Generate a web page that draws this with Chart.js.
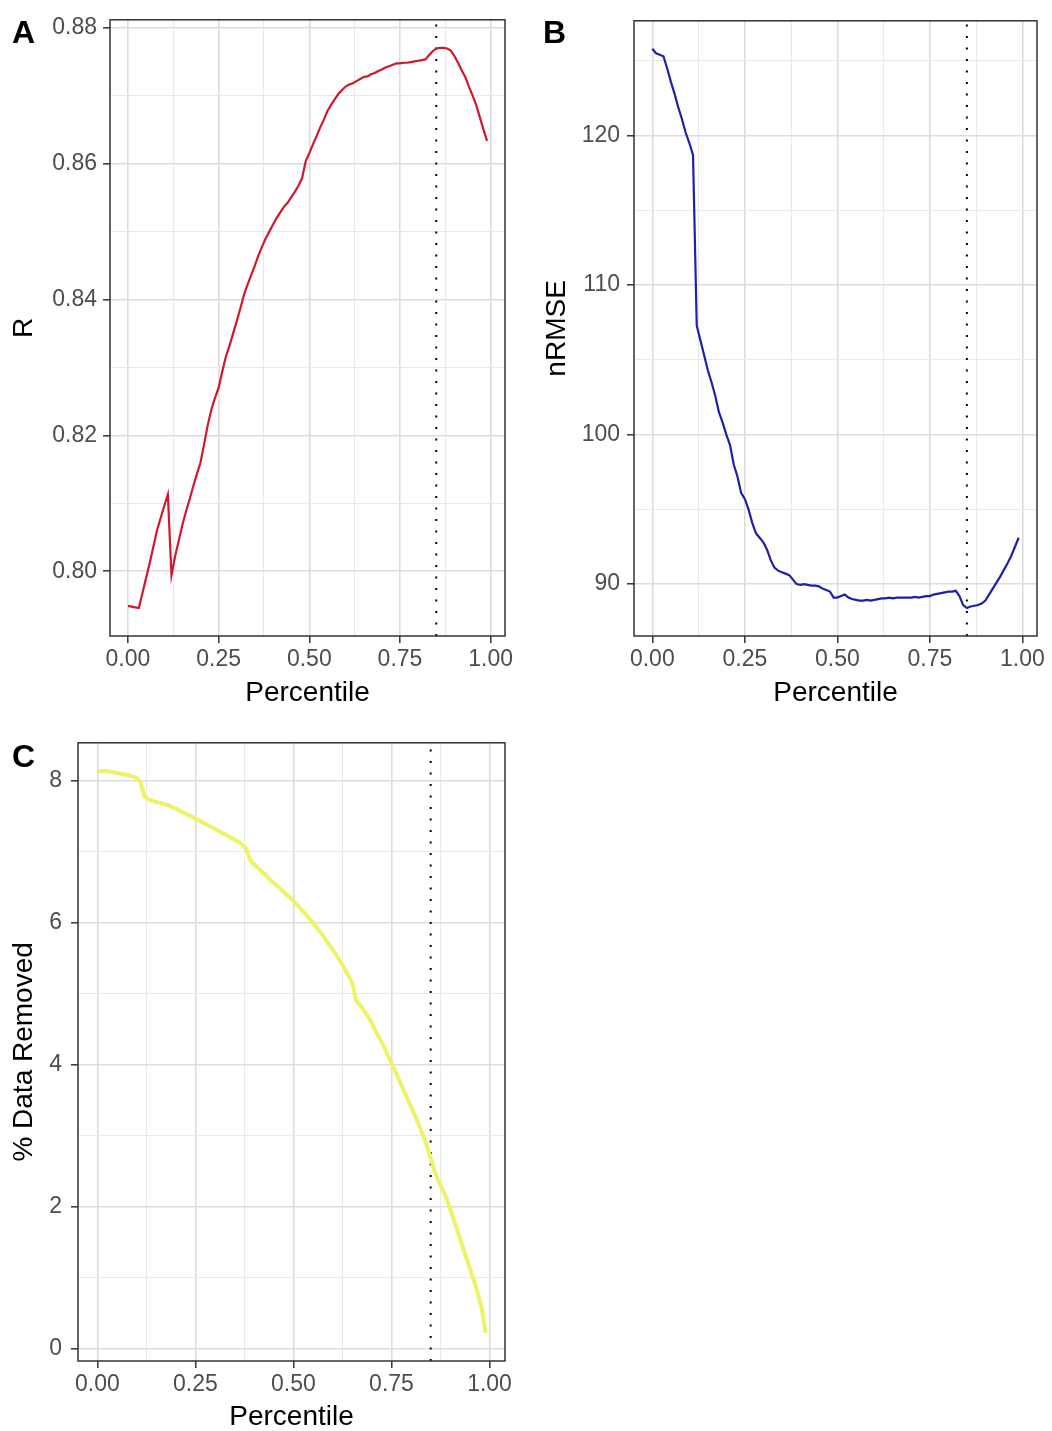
<!DOCTYPE html>
<html>
<head>
<meta charset="utf-8">
<script src="https://cdn.jsdelivr.net/npm/chart.js@4"></script>
<style>
html, body { margin: 0; padding: 0; background: #fff; overflow: hidden; }
body { width: 1052px; height: 1431px; position: relative; font-family: "Liberation Sans", Arial, sans-serif; }
canvas { position: absolute; }
.tag { position: absolute; font-weight: bold; font-size: 32px; line-height: 32px; color: #000; }
</style>
</head>
<body>
<canvas id="chartA" width="520" height="712" style="left:0;top:0"></canvas>
<canvas id="chartB" width="527" height="712" style="left:525px;top:0"></canvas>
<canvas id="chartC" width="520" height="717" style="left:0;top:720px"></canvas>
<div class="tag" style="left:12px;top:16px">A</div>
<div class="tag" style="left:543px;top:16px">B</div>
<div class="tag" style="left:12px;top:740px">C</div>
<script>
// percentile thresholds shared by all three panels
const percentile = [
  0.00, 0.01, 0.02, 0.03, 0.04, 0.05, 0.06, 0.07, 0.08, 0.09,
  0.10, 0.11, 0.12, 0.13, 0.14, 0.15, 0.16, 0.17, 0.18, 0.19,
  0.20, 0.21, 0.22, 0.23, 0.24, 0.25, 0.26, 0.27, 0.28, 0.29,
  0.30, 0.31, 0.32, 0.33, 0.34, 0.35, 0.36, 0.37, 0.38, 0.39,
  0.40, 0.41, 0.42, 0.43, 0.44, 0.45, 0.46, 0.47, 0.48, 0.49,
  0.50, 0.51, 0.52, 0.53, 0.54, 0.55, 0.56, 0.57, 0.58, 0.59,
  0.60, 0.61, 0.62, 0.63, 0.64, 0.65, 0.66, 0.67, 0.68, 0.69,
  0.70, 0.71, 0.72, 0.73, 0.74, 0.75, 0.76, 0.77, 0.78, 0.79,
  0.80, 0.81, 0.82, 0.83, 0.84, 0.85, 0.86, 0.87, 0.88, 0.89,
  0.90, 0.91, 0.92, 0.93, 0.94, 0.95, 0.96, 0.97, 0.98, 0.99
];

// A: correlation
const rValues = [
  0.7949, 0.7948, 0.7947, 0.7946, 0.7968, 0.7990, 0.8012, 0.8036, 0.8060, 0.8078,
  0.8096, 0.8113, 0.7994, 0.8022, 0.8045, 0.8068, 0.8088, 0.8106, 0.8125, 0.8143,
  0.8160, 0.8187, 0.8215, 0.8238, 0.8255, 0.8270, 0.8294, 0.8316, 0.8332, 0.8350,
  0.8368, 0.8387, 0.8407, 0.8422, 0.8436, 0.8450, 0.8465, 0.8478, 0.8490, 0.8500,
  0.8510, 0.8520, 0.8528, 0.8536, 0.8542, 0.8550, 0.8558, 0.8567, 0.8578, 0.8603,
  0.8615, 0.8628, 0.8640, 0.8653, 0.8664, 0.8677, 0.8686, 0.8694, 0.8702, 0.8708,
  0.8713, 0.8716, 0.8718, 0.8721, 0.8724, 0.8727, 0.8728, 0.8731, 0.8733, 0.8736,
  0.8738, 0.8741, 0.8743, 0.8745, 0.8747, 0.8747, 0.8748, 0.8748, 0.8749, 0.8750,
  0.8751, 0.8752, 0.8753, 0.8759, 0.8765, 0.8769, 0.8770, 0.8770, 0.8769, 0.8766,
  0.8758, 0.8748, 0.8737, 0.8727, 0.8713, 0.8700, 0.8686, 0.8668, 0.8650, 0.8633
];

// B: normalised RMSE
const nrmseValues = [
  125.8, 125.5, 125.4, 125.3, 124.5, 123.6, 122.8, 121.9, 121.1, 120.2,
  119.5, 118.7, 107.3, 106.3, 105.3, 104.3, 103.5, 102.6, 101.5, 100.8,
  100.0, 99.3, 98.0, 97.2, 96.1, 95.7, 95.0, 94.1, 93.4, 93.1,
  92.8, 92.3, 91.6, 91.1, 90.9, 90.8, 90.7, 90.6, 90.3, 90.0,
  89.95, 90.0, 89.95, 89.9, 89.9, 89.85, 89.7, 89.6, 89.5, 89.1,
  89.1, 89.2, 89.3, 89.1, 89.0, 88.95, 88.9, 88.9, 88.95, 88.9,
  88.95, 89.0, 89.05, 89.05, 89.1, 89.05, 89.1, 89.1, 89.1, 89.1,
  89.1, 89.15, 89.1, 89.15, 89.2, 89.2, 89.3, 89.35, 89.4, 89.45,
  89.5, 89.5, 89.55, 89.2, 88.6, 88.4, 88.5, 88.55, 88.6, 88.7,
  88.9, 89.3, 89.7, 90.1, 90.5, 90.95, 91.4, 91.9, 92.5, 93.1
];

// C: % of data removed
const removedValues = [
  8.13, 8.14, 8.14, 8.13, 8.12, 8.11, 8.10, 8.09, 8.08, 8.06,
  8.04, 7.98, 7.78, 7.74, 7.72, 7.70, 7.69, 7.67, 7.66, 7.63,
  7.61, 7.58, 7.55, 7.52, 7.50, 7.47, 7.44, 7.41, 7.38, 7.35,
  7.32, 7.29, 7.26, 7.23, 7.20, 7.17, 7.14, 7.10, 7.04, 6.88,
  6.82, 6.77, 6.72, 6.67, 6.61, 6.56, 6.51, 6.46, 6.41, 6.36,
  6.31, 6.25, 6.19, 6.13, 6.06, 6.00, 5.93, 5.86, 5.78, 5.70,
  5.62, 5.54, 5.45, 5.36, 5.26, 5.15, 4.90, 4.84, 4.76, 4.68,
  4.58, 4.47, 4.37, 4.26, 4.14, 4.02, 3.90, 3.78, 3.65, 3.53,
  3.41, 3.28, 3.15, 3.01, 2.86, 2.68, 2.50, 2.36, 2.24, 2.12,
  1.96, 1.80, 1.63, 1.46, 1.29, 1.13, 0.96, 0.78, 0.57, 0.22
];

const cutoff = 0.85;

const xMajorTicks = [0, 0.25, 0.5, 0.75, 1];
const xMinorTicks = [0.125, 0.375, 0.625, 0.875];
const xTickLabels = ['0.00', '0.25', '0.50', '0.75', '1.00'];

const rMajorTicks = [0.80, 0.82, 0.84, 0.86, 0.88];
const rMinorTicks = [0.79, 0.81, 0.83, 0.85, 0.87];
const rTickLabels = ['0.80', '0.82', '0.84', '0.86', '0.88'];

const nrmseMajorTicks = [90, 100, 110, 120];
const nrmseMinorTicks = [85, 95, 105, 115, 125];
const nrmseTickLabels = ['90', '100', '110', '120'];

const removedMajorTicks = [0, 2, 4, 6, 8];
const removedMinorTicks = [1, 3, 5, 7];
const removedTickLabels = ['0', '2', '4', '6', '8'];

Chart.defaults.font.family = '"Liberation Sans", Arial, sans-serif';

// ggplot style: data range plus 5% on each side
function expand(values) {
    const lo = Math.min(...values), hi = Math.max(...values);
    const pad = (hi - lo) * 0.05;
    return [lo - pad, hi + pad];
}

function axisOptions(range, majors, minors, labels, title, size, tickPad, titlePad) {
    const isMajor = v => majors.some(m => Math.abs(m - v) < 1e-9);
    return {
        type: 'linear',
        bounds: 'data',
        min: range[0],
        max: range[1],
        afterBuildTicks: s => {
            s.ticks = majors.concat(minors)
                .filter(v => v >= range[0] && v <= range[1])
                .sort((a, b) => a - b)
                .map(v => ({ value: v }));
        },
        afterFit: s => {
            if (s.isHorizontal()) s.height = size; else s.width = size;
        },
        grid: {
            color: c => (c.tick && isMajor(c.tick.value)) ? '#dcdcdc' : '#e9e9e9',
            lineWidth: c => (c.tick && isMajor(c.tick.value)) ? 1.6 : 1.1,
            tickColor: c => (c.tick && isMajor(c.tick.value)) ? '#333333' : 'rgba(0,0,0,0)',
            tickLength: 7,
            tickWidth: 1.5
        },
        border: { display: false },
        ticks: {
            autoSkip: false,
            maxRotation: 0,
            padding: tickPad,
            color: '#4d4d4d',
            font: { size: 23 },
            callback: v => {
                const i = majors.findIndex(m => Math.abs(m - v) < 1e-9);
                return i < 0 ? '' : labels[i];
            }
        },
        title: { display: true, text: title, color: '#000', font: { size: 28 }, padding: titlePad }
    };
}

// panel.border of theme_bw
const panelBorder = {
    id: 'panelBorder',
    afterDatasetsDraw(chart) {
        const a = chart.chartArea, ctx = chart.ctx;
        ctx.save();
        ctx.strokeStyle = '#333333';
        ctx.lineWidth = 1.5;
        ctx.strokeRect(a.left, a.top, a.right - a.left, a.bottom - a.top);
        ctx.restore();
    }
};

function makePanel(id, cfg) {
    const xr = expand(percentile);
    const yr = expand(cfg.values);
    const points = percentile.map((p, i) => ({ x: p, y: cfg.values[i] }));
    return new Chart(document.getElementById(id), {
        type: 'line',
        data: {
            datasets: [{
                data: points,
                borderColor: cfg.color,
                borderWidth: cfg.width,
                pointRadius: 0,
                tension: 0,
                fill: false
            }, {
                data: [{ x: cutoff, y: yr[0] }, { x: cutoff, y: yr[1] }],
                borderColor: '#000',
                borderWidth: 2,
                borderDash: [2, 9.5],
                pointRadius: 0,
                fill: false
            }]
        },
        options: {
            responsive: false,
            animation: false,
            devicePixelRatio: 1,
            layout: { padding: cfg.padding },
            plugins: { legend: { display: false }, tooltip: { enabled: false } },
            scales: {
                x: axisOptions(xr, xMajorTicks, xMinorTicks, xTickLabels, 'Percentile', 76, 3, { top: 0, bottom: cfg.xTitlePad }),
                y: axisOptions(yr, cfg.majors, cfg.minors, cfg.labels, cfg.title, cfg.yWidth, cfg.yTickPad, { top: cfg.yTitlePad, bottom: 0 })
            }
        },
        plugins: [panelBorder]
    });
}

makePanel('chartA', {
    values: rValues, color: '#d0182c', width: 2.2,
    majors: rMajorTicks, minors: rMinorTicks, labels: rTickLabels, title: 'R',
    yWidth: 110, yTickPad: 6, yTitlePad: 7, xTitlePad: 2,
    padding: { top: 16, right: 15, left: 0, bottom: 0 }
});

makePanel('chartB', {
    values: nrmseValues, color: '#1f1fa8', width: 2.2,
    majors: nrmseMajorTicks, minors: nrmseMinorTicks, labels: nrmseTickLabels, title: 'nRMSE',
    yWidth: 109, yTickPad: 7, yTitlePad: 15, xTitlePad: 2,
    padding: { top: 16, right: 15, left: 0, bottom: 0 }
});

makePanel('chartC', {
    values: removedValues, color: '#eef266', width: 4,
    majors: removedMajorTicks, minors: removedMinorTicks, labels: removedTickLabels, title: '% Data Removed',
    yWidth: 78, yTickPad: 9, yTitlePad: 7, xTitlePad: 3,
    padding: { top: 21, right: 15, left: 0, bottom: 0 }
});
</script>
</body>
</html>
